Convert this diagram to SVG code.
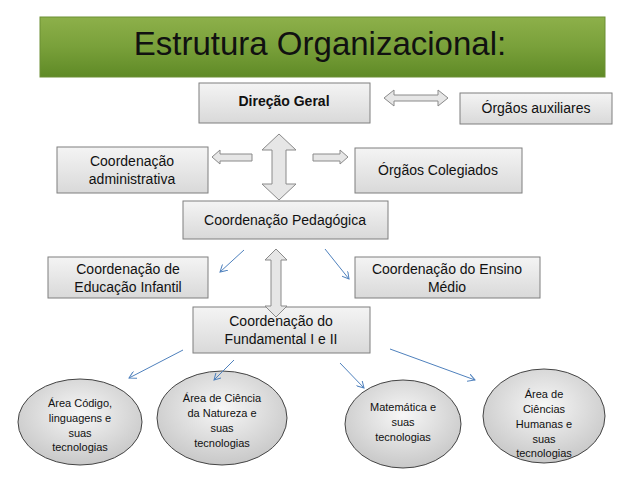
<svg xmlns="http://www.w3.org/2000/svg" width="638" height="479" viewBox="0 0 638 479">
<defs>
<linearGradient id="g" x1="0" y1="0" x2="0" y2="1"><stop offset="0" stop-color="#f4f4f4"/><stop offset="1" stop-color="#d9d9d9"/></linearGradient>
<linearGradient id="t" x1="0" y1="0" x2="0" y2="1"><stop offset="0" stop-color="#8db04a"/><stop offset="0.5" stop-color="#79a03a"/><stop offset="1" stop-color="#5f8a26"/></linearGradient>
<radialGradient id="e" cx="0.5" cy="0.4" r="0.6"><stop offset="0" stop-color="#f7f7f7"/><stop offset="1" stop-color="#c8c8c8"/></radialGradient>
<marker id="a" markerWidth="8" markerHeight="8" refX="7" refY="4" orient="auto" markerUnits="userSpaceOnUse"><path d="M0,0 L7,4 L0,8" fill="none" stroke="#4f81bd" stroke-width="1"/></marker>
</defs>
<style>
.b{fill:url(#g);stroke:#7f7f7f;stroke-width:1}
.el{fill:url(#e);stroke:#444;stroke-width:1}
text{font-family:"Liberation Sans",Calibri,Carlito,sans-serif;fill:#111;text-anchor:middle}
.m{font-size:14px}
.s{font-size:11px}
.bx{fill:#e6e6e6;stroke:#8a8a8a;stroke-width:1}
.ln{stroke:#4f81bd;stroke-width:1;fill:none;marker-end:url(#a)}
</style>
<rect width="638" height="479" fill="#fff"/>
<g id="title"><rect x="40" y="17" width="565" height="60" fill="url(#t)" stroke="#6d8f34"/><text x="320" y="55" style="font-size:33px">Estrutura Organizacional:</text></g>
<g id="direcao"><rect class="b" x="199" y="83" width="171" height="40"/><text class="m" x="284" y="106" font-weight="bold">Direção Geral</text></g>
<g id="auxiliares"><rect class="b" x="460" y="93" width="152" height="31"/><text class="m" x="536" y="113">Órgãos auxiliares</text></g>
<g id="adm"><rect class="b" x="57" y="147" width="151" height="46"/><text class="m" x="132" y="166">Coordenação</text><text class="m" x="132" y="184">administrativa</text></g>
<g id="colegiados"><rect class="b" x="355" y="148" width="167" height="45"/><text class="m" x="438" y="175">Órgãos Colegiados</text></g>
<g id="pedagogica"><rect class="b" x="183" y="201" width="205" height="38"/><text class="m" x="285" y="225">Coordenação Pedagógica</text></g>
<g id="infantil"><rect class="b" x="48" y="257" width="160" height="41"/><text class="m" x="128" y="274">Coordenação de</text><text class="m" x="128" y="292">Educação Infantil</text></g>
<g id="medio"><rect class="b" x="355" y="257" width="185" height="41"/><text class="m" x="447" y="274">Coordenação do Ensino</text><text class="m" x="447" y="292">Médio</text></g>
<g id="fundamental"><rect class="b" x="193" y="307" width="177" height="46"/><text class="m" x="281" y="326">Coordenação do</text><text class="m" x="281" y="344">Fundamental I e II</text></g>
<g id="area1"><ellipse class="el" cx="80" cy="422" rx="62" ry="43"/><text class="s" x="80" y="407">Área Código,</text><text class="s" x="80" y="422">linguagens e</text><text class="s" x="80" y="437">suas</text><text class="s" x="80" y="451">tecnologias</text></g>
<g id="area2"><ellipse class="el" cx="222" cy="418" rx="65" ry="47"/><text class="s" x="222" y="402">Área de Ciência</text><text class="s" x="222" y="417">da Natureza e</text><text class="s" x="222" y="432">suas</text><text class="s" x="222" y="447">tecnologias</text></g>
<g id="area3"><ellipse class="el" cx="403" cy="424" rx="58" ry="44"/><text class="s" x="403" y="411">Matemática e</text><text class="s" x="403" y="426">suas</text><text class="s" x="403" y="441">tecnologias</text></g>
<g id="area4"><ellipse class="el" cx="544" cy="416" rx="61" ry="47"/><text class="s" x="544" y="398">Área de</text><text class="s" x="544" y="413">Ciências</text><text class="s" x="544" y="428">Humanas e</text><text class="s" x="544" y="443">suas</text><text class="s" x="544" y="457">tecnologias</text></g>
<g id="connectors">
<path class="bx" d="M384,98 L394,90 L394,95 L438,95 L438,90 L448,98 L438,106 L438,101 L394,101 L394,106 Z"/>
<path class="bx" d="M279,134 L296,150 L286,150 L286,184 L296,184 L279,200 L262,184 L272,184 L272,150 L262,150 Z"/>
<path class="bx" d="M212,157 L220,150 L220,154 L252,154 L252,161 L220,161 L220,164 Z"/>
<path class="bx" d="M348,157 L340,150 L340,154 L313,154 L313,161 L340,161 L340,164 Z"/>
<path class="bx" d="M276,249 L287,260 L281,260 L281,306 L287,306 L276,317 L265,306 L271,306 L271,260 L265,260 Z"/>
<line class="ln" x1="244" y1="250" x2="220" y2="272"/>
<line class="ln" x1="325" y1="249" x2="349" y2="279"/>
<line class="ln" x1="183" y1="350" x2="129" y2="378"/>
<line class="ln" x1="234" y1="360" x2="214" y2="380"/>
<line class="ln" x1="340" y1="363" x2="364" y2="388"/>
<line class="ln" x1="390" y1="349" x2="475" y2="380"/>
</g>
</svg>
